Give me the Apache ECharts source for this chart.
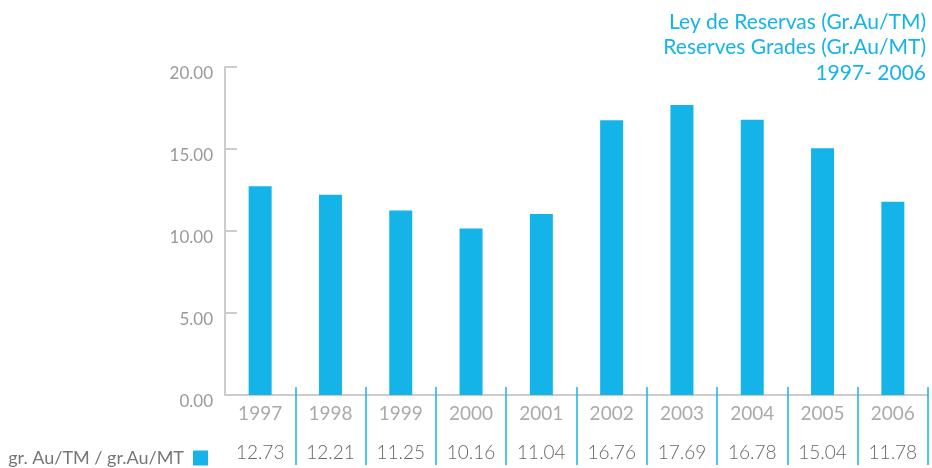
<!DOCTYPE html>
<html>
<head>
<meta charset="utf-8">
<script src="https://cdn.jsdelivr.net/npm/echarts@6/dist/echarts.min.js"></script>
<style>
  html, body { margin: 0; padding: 0; background: #fff; }
  #chart { width: 932px; height: 468px; }
</style>
</head>
<body>
<div id="chart"></div>
<script>
const years = ["1997", "1998", "1999", "2000", "2001", "2002", "2003", "2004", "2005", "2006"];
const grades = [12.73, 12.21, 11.25, 10.16, 11.04, 16.76, 17.69, 16.78, 15.04, 11.78];
const seriesName = "gr. Au/TM / gr.Au/MT";
const titleLines = ["Ley de Reservas (Gr.Au/TM)", "Reserves Grades (Gr.Au/MT)", "1997- 2006"];

const BLUE = "#14b4e8";
const FONT = "Lato";

const chart = echarts.init(document.getElementById("chart"));

const option = {
  animation: false,
  title: {
    text: titleLines.join("\n"),
    left: "right",
    top: 4,
    padding: [5, 6, 5, 5],
    textStyle: {
      color: BLUE,
      fontFamily: FONT,
      fontWeight: "normal",
      fontSize: 21,
      lineHeight: 25.5,
    },
  },
  legend: {
    data: [seriesName],
    right: 719,
    top: 444,
    align: "right",
    icon: "rect",
    itemWidth: 15,
    itemHeight: 15,
    textStyle: {
      color: "#777",
      fontFamily: FONT,
      fontSize: 18,
      padding: [0, 4, 0, 0],
    },
  },
  grid: {
    left: 225,
    right: 4,
    top: 67,
    bottom: 73,
  },
  xAxis: [
    {
      type: "category",
      data: years,
      axisLine: { lineStyle: { color: "#ccc", width: 2 } },
      axisTick: { show: false },
      axisLabel: {
        color: "#aaa",
        fontFamily: FONT,
        fontSize: 19,
        margin: 9,
      },
    },
    {
      type: "category",
      data: grades.map((v) => v.toFixed(2)),
      position: "bottom",
      offset: -8,
      axisLine: { show: false },
      axisTick: {
        show: true,
        inside: false,
        length: 78,
        interval: (i) => i > 0,
        lineStyle: { color: BLUE, width: 1.5 },
      },
      axisLabel: {
        color: "#666",
        fontFamily: FONT,
        fontWeight: 300,
        fontSize: 19,
        margin: 56,
      },
    },
  ],
  yAxis: {
    type: "value",
    min: 0,
    max: 20,
    interval: 5,
    axisLine: { show: true, lineStyle: { color: "#ccc", width: 2 } },
    axisTick: {
      show: true,
      inside: true,
      length: 12,
      lineStyle: { color: "#ccc", width: 2 },
    },
    splitLine: { show: false },
    axisLabel: {
      formatter: (v) => v.toFixed(2),
      color: "#999",
      fontFamily: FONT,
      fontSize: 17,
      margin: 12,
      verticalAlign: "top",
      lineHeight: 14,
    },
  },
  series: [
    {
      name: seriesName,
      type: "bar",
      data: grades,
      barWidth: 23,
      itemStyle: { color: BLUE },
    },
  ],
};

chart.setOption(option);
</script>
</body>
</html>
